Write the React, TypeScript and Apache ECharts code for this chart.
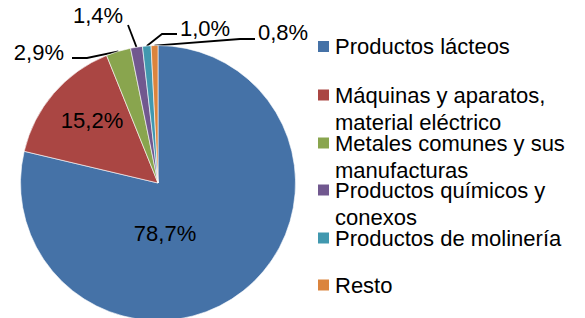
import React, { useEffect, useRef } from 'react';
import * as echarts from 'echarts';

const CATEGORIES = [
  'Productos lácteos',
  'Máquinas y aparatos,\nmaterial eléctrico',
  'Metales comunes y sus\nmanufacturas',
  'Productos químicos y\nconexos',
  'Productos de molinería',
  'Resto',
];
const SHARES = [78.7, 15.2, 2.9, 1.4, 1.0, 0.8];
const COLORS = ['#4572A7', '#AA4643', '#89A54E', '#71588F', '#4198AF', '#DB843D'];

// label placement (layout only)
const LABEL_POS: any[] = [
  { x: 165, y: 233, align: 'center' },
  { x: 92, y: 120, align: 'center' },
  { x: 64, y: 52, align: 'right', line: [[87, 58], [72, 58]] },
  { x: 98, y: 15, align: 'center', line: [[128, 25]] },
  { x: 180, y: 28, align: 'left', line: [[162, 34], [177, 34]] },
  { x: 258, y: 32, align: 'left', line: [[240, 39], [255, 39]] },
];
const LEGEND_ICON_Y = [46.5, 95, 143, 190, 238, 285];
const LINE_H = 27;
const FONT = 'Liberation Sans, Arial, sans-serif';

export default function App() {
  const ref = useRef<HTMLDivElement>(null);
  useEffect(() => {
    if (!ref.current) return;
    const chart = echarts.init(ref.current, null, { renderer: 'svg' });
    const fmt = (v: number) => v.toFixed(1).replace('.', ',') + '%';
    const legends = CATEGORIES.map((name, i) => {
      const multi = name.includes('\n');
      const half = multi ? LINE_H * 1.5 : LINE_H / 2;
      return {
        orient: 'vertical',
        left: 316,
        top: LEGEND_ICON_Y[i] - half,
        padding: 0,
        itemWidth: 13,
        itemHeight: 13,
        icon: 'rect',
        selectedMode: false,
        data: [name],
        formatter: (n: string) => (n.includes('\n') ? '\n' + n : n),
        textStyle: {
          fontFamily: FONT,
          fontSize: 22,
          lineHeight: LINE_H,
          color: '#000',
        },
      };
    });
    chart.setOption({
      animation: false,
      color: COLORS,
      legend: legends,
      series: [
        {
          type: 'pie',
          center: [158, 183],
          radius: 137.5,
          startAngle: 90,
          clockwise: true,
          avoidLabelOverlap: false,
          itemStyle: { borderColor: '#fff', borderWidth: 0.6 },
          label: {
            show: true,
            position: 'outside',
            formatter: (p: any) => fmt(p.value),
            fontFamily: FONT,
            fontSize: 22,
            color: '#000',
          },
          labelLine: {
            show: true,
            lineStyle: { color: '#000', width: 1.8 },
          },
          labelLayout: (params: any) => {
            const p = LABEL_POS[params.dataIndex];
            const res: any = { x: p.x, y: p.y, align: p.align, verticalAlign: 'middle' };
            if (p.line && params.labelLinePoints) {
              res.labelLinePoints = [params.labelLinePoints[0], ...p.line];
            }
            return res;
          },
          data: CATEGORIES.map((name, i) => {
            const d: any = { name, value: SHARES[i] };
            if (i < 2) {
              d.label = { position: 'inside' };
              d.labelLine = { show: false };
            }
            return d;
          }),
        },
      ],
    });
    return () => chart.dispose();
  }, []);
  return (
    <div
      ref={ref}
      style={{ position: 'fixed', left: 0, top: 0, width: 585, height: 318, background: '#fff' }}
    />
  );
}
